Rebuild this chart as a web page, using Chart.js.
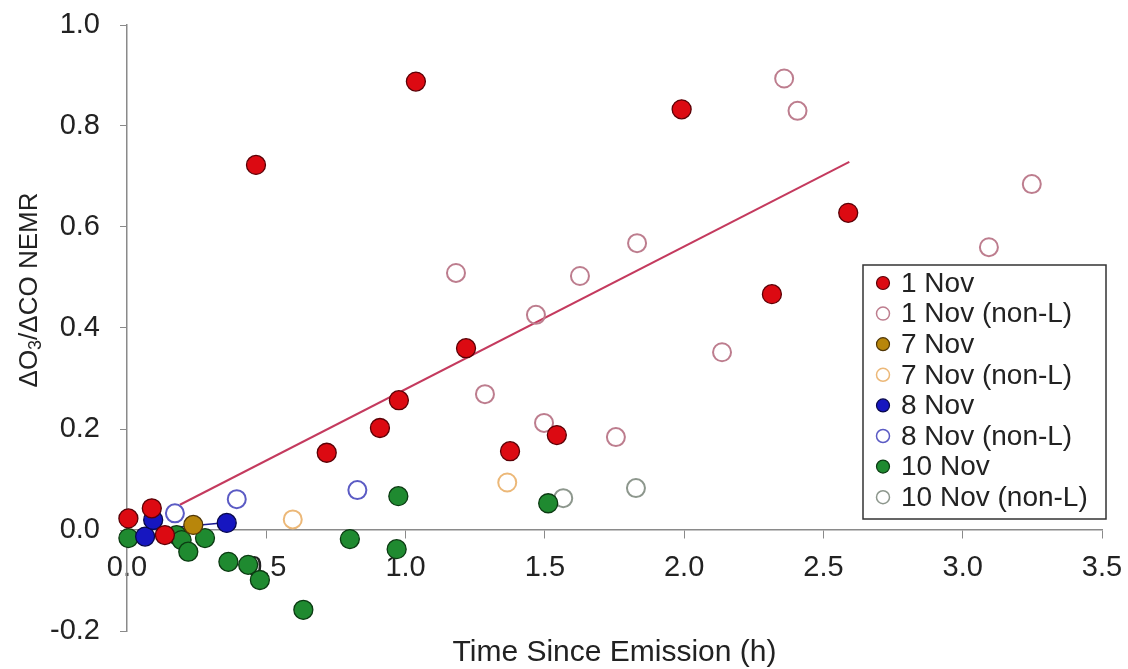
<!DOCTYPE html>
<html>
<head>
<meta charset="utf-8">
<title>O3/CO NEMR vs time since emission</title>
<script src="https://cdn.jsdelivr.net/npm/chart.js@4/dist/chart.umd.min.js"></script>
<style>
  body { margin: 0; background: #fff; }
  canvas { display: block; }
</style>
</head>
<body>
<canvas id="nemrChart" width="1128" height="669"></canvas>
<script>
// Legend labels, one per flight / plume type
const seriesLabels = ['1 Nov', '1 Nov (non-L)', '7 Nov', '7 Nov (non-L)', '8 Nov', '8 Nov (non-L)', '10 Nov', '10 Nov (non-L)'];

// Time since emission (h) and dO3/dCO NEMR
const nov1Time = [0.005, 0.089, 0.136, 0.463, 0.717, 0.908, 0.976, 1.037, 1.217, 1.375, 1.543, 1.991, 2.315, 2.589];
const nov1Nemr = [0.023, 0.043, -0.010, 0.723, 0.153, 0.202, 0.257, 0.888, 0.360, 0.156, 0.188, 0.833, 0.467, 0.628];

const nov1NonLTime = [1.181, 1.285, 1.468, 1.497, 1.626, 1.755, 1.831, 2.136, 2.359, 2.407, 3.094, 3.248];
const nov1NonLNemr = [0.509, 0.269, 0.426, 0.212, 0.503, 0.184, 0.568, 0.352, 0.894, 0.830, 0.560, 0.685];

const nov7Time = [0.238];
const nov7Nemr = [0.010];

const nov7NonLTime = [0.595, 1.365];
const nov7NonLNemr = [0.021, 0.094];

const nov8Time = [0.065, 0.094, 0.358];
const nov8Nemr = [-0.013, 0.020, 0.014];

const nov8NonLTime = [0.172, 0.394, 0.827];
const nov8NonLNemr = [0.033, 0.061, 0.079];

const nov10Time = [0.005, 0.178, 0.196, 0.220, 0.280, 0.364, 0.435, 0.477, 0.633, 0.800, 0.968, 0.974, 1.512];
const nov10Nemr = [-0.016, -0.010, -0.020, -0.043, -0.016, -0.063, -0.069, -0.099, -0.158, -0.018, -0.038, 0.067, 0.053];

const nov10NonLTime = [1.566, 1.827];
const nov10NonLNemr = [0.063, 0.083];

// linear fits (end points)
const nov1FitTime = [0.19, 2.593];
const nov1FitNemr = [0.050, 0.729];
const nov8FitTime = [0.07, 0.36];
const nov8FitNemr = [0.000, 0.015];

// axis ticks
const xTickValues = [0.0, 0.5, 1.0, 1.5, 2.0, 2.5, 3.0, 3.5];
const yTickValues = [-0.2, 0.0, 0.2, 0.4, 0.6, 0.8, 1.0];

const FONT = "'Liberation Sans', Arial, Helvetica, sans-serif";
const TEXT = '#222';
const AXIS = '#8a8a8a';

function pts(xs, ys) {
    return xs.map((x, i) => ({ x: x, y: ys[i] }));
}

// filled markers for L plumes, hollow for non-L
function filled(label, xs, ys, fill, edge) {
    return {
        type: 'scatter', label: label, data: pts(xs, ys), order: 0,
        pointRadius: 9.5, pointBorderWidth: 1.3,
        backgroundColor: fill, borderColor: edge, clip: false, legend: true
    };
}
function hollow(label, xs, ys, edge) {
    return {
        type: 'scatter', label: label, data: pts(xs, ys), order: 1,
        pointRadius: 9, pointBorderWidth: 2,
        backgroundColor: 'rgba(255,255,255,0)', borderColor: edge, clip: false, legend: true
    };
}
function fitLine(xs, ys, colour, width) {
    return {
        type: 'line', data: pts(xs, ys), order: 2,
        borderColor: colour, borderWidth: width, pointRadius: 0, fill: false, legend: false
    };
}

const datasets = [
    filled(seriesLabels[0], nov1Time, nov1Nemr, '#dc0a12', '#5a0006'),
    hollow(seriesLabels[1], nov1NonLTime, nov1NonLNemr, '#bd7d8e'),
    filled(seriesLabels[2], nov7Time, nov7Nemr, '#b8860b', '#4f3606'),
    hollow(seriesLabels[3], nov7NonLTime, nov7NonLNemr, '#ecb878'),
    filled(seriesLabels[4], nov8Time, nov8Nemr, '#1616c0', '#08084a'),
    hollow(seriesLabels[5], nov8NonLTime, nov8NonLNemr, '#5b5bc4'),
    filled(seriesLabels[6], nov10Time, nov10Nemr, '#1f8a30', '#0b3a12'),
    hollow(seriesLabels[7], nov10NonLTime, nov10NonLNemr, '#8d978d'),
    fitLine(nov1FitTime, nov1FitNemr, '#c43a5e', 2),
    fitLine(nov8FitTime, nov8FitNemr, '#1a1a90', 1.5)
];

// rotated y title with a subscript 3
const yTitlePlugin = {
    id: 'yTitle',
    afterDraw(chart) {
        const ctx = chart.ctx;
        const big = '26px ' + FONT, small = '18px ' + FONT;
        const parts = [['ΔO', big, 0], ['3', small, 6], ['/ΔCO NEMR', big, 0]];
        ctx.save();
        let total = 0;
        parts.forEach(p => { ctx.font = p[1]; total += ctx.measureText(p[0]).width; });
        ctx.translate(30, 290);
        ctx.rotate(-Math.PI / 2);
        ctx.fillStyle = TEXT;
        ctx.textBaseline = 'middle';
        ctx.textAlign = 'left';
        let x = -total / 2;
        parts.forEach(p => {
            ctx.font = p[1];
            ctx.fillText(p[0], x, p[2]);
            x += ctx.measureText(p[0]).width;
        });
        ctx.restore();
    }
};

// boxed legend inside the plot, lower right
const boxLegendPlugin = {
    id: 'boxLegend',
    afterDraw(chart) {
        const ctx = chart.ctx;
        const left = 863, top = 265, w = 243, h = 254;
        const rowStart = 283, rowStep = 30.6;
        ctx.save();
        ctx.fillStyle = '#fff';
        ctx.fillRect(left, top, w, h);
        ctx.strokeStyle = '#333';
        ctx.lineWidth = 1.5;
        ctx.strokeRect(left, top, w, h);
        let row = 0;
        chart.data.datasets.forEach(ds => {
            if (!ds.legend) return;
            const y = rowStart + row * rowStep;
            ctx.beginPath();
            ctx.arc(883, y, 6.5, 0, Math.PI * 2);
            ctx.fillStyle = ds.backgroundColor;
            ctx.fill();
            ctx.lineWidth = ds.pointBorderWidth > 1.5 ? 1.5 : 1.2;
            ctx.strokeStyle = ds.borderColor;
            ctx.stroke();
            ctx.fillStyle = TEXT;
            ctx.font = '28px ' + FONT;
            ctx.textBaseline = 'middle';
            ctx.textAlign = 'left';
            ctx.fillText(ds.label, 901, y + 1);
            row++;
        });
        ctx.restore();
    }
};

// tick labels may hang over the plot edges; the layout padding leaves room for them
function noOverhang(s) {
    s.paddingTop = 0;
    s.paddingBottom = 0;
    s.paddingLeft = 0;
    s.paddingRight = 0;
}

const ctx = document.getElementById('nemrChart').getContext('2d');
const nemrChart = new Chart(ctx, {
    data: { datasets: datasets },
    options: {
        responsive: false,
        animation: false,
        events: [],
        devicePixelRatio: 1,
        layout: { padding: { top: 25, right: 26, left: 0, bottom: 0 } },
        plugins: {
            legend: { display: false },
            tooltip: { enabled: false }
        },
        scales: {
            x: {
                type: 'linear',
                position: { y: 0 },
                min: 0, max: 3.5,
                afterBuildTicks: s => { s.ticks = xTickValues.map(v => ({ value: v })); },
                grid: { display: true, drawOnChartArea: false, drawTicks: true, tickLength: 8, color: AXIS },
                border: { display: true, color: AXIS, width: 1.5 },
                ticks: {
                    padding: 13, color: TEXT, font: { family: FONT, size: 29 },
                    maxRotation: 0, autoSkip: false,
                    callback: v => v.toFixed(1)
                },
                afterFit: noOverhang
            },
            x2: {
                type: 'linear',
                position: 'bottom',
                ticks: { display: false },
                grid: { display: false, drawTicks: false },
                border: { display: false },
                title: {
                    display: true, text: 'Time Since Emission (h)', color: TEXT,
                    font: { family: FONT, size: 30, lineHeight: 1.1 }, padding: { top: 0, bottom: 0 }
                },
                afterFit: s => { s.height = 38; noOverhang(s); }
            },
            y: {
                type: 'linear',
                position: 'left',
                min: -0.2, max: 1.0,
                afterBuildTicks: s => { s.ticks = yTickValues.map(v => ({ value: v })); },
                grid: { display: true, drawOnChartArea: false, drawTicks: true, tickLength: 7, color: AXIS },
                border: { display: true, color: AXIS, width: 1.5 },
                ticks: {
                    padding: 20, color: TEXT, font: { family: FONT, size: 29 },
                    callback: v => v.toFixed(1)
                },
                afterFit: s => { s.width = 127; noOverhang(s); }
            }
        }
    },
    plugins: [yTitlePlugin, boxLegendPlugin]
});
</script>
</body>
</html>
